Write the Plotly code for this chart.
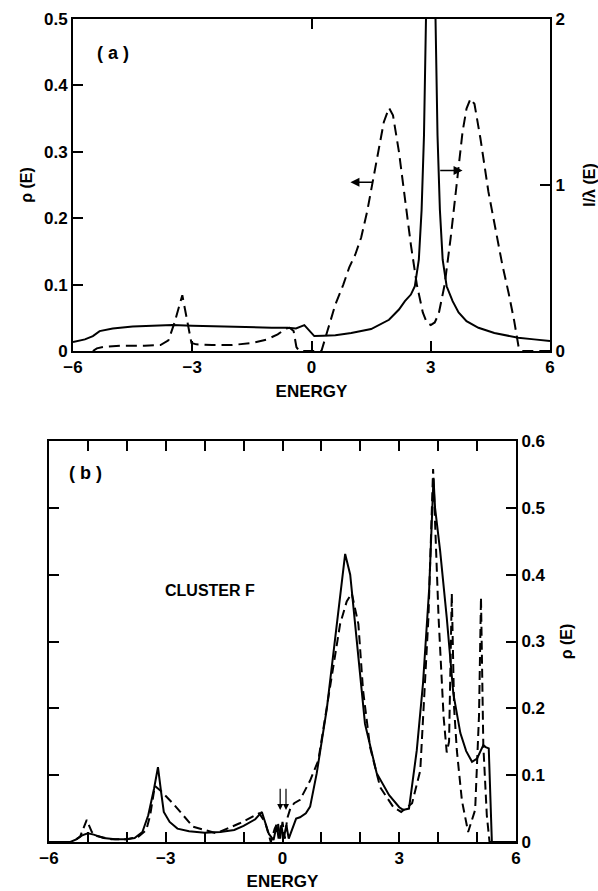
import plotly.graph_objects as go

# ---------------- Panel (a) data ----------------
# dashed curve: rho(E), left axis
a_rho_E = [-5.5, -5.4, -5.2, -4.8, -4.2, -3.8, -3.6, -3.45, -3.25, -3.12, -3.02, -2.9, -2.5, -2.0,
           -1.5, -1.14, -0.85, -0.64, -0.55, -0.45, -0.38, -0.31, 0.0, 0.25, 0.4, 0.6, 0.8, 0.95,
           1.1, 1.25, 1.4, 1.55, 1.7, 1.82, 1.95, 2.05, 2.2, 2.35, 2.5, 2.65, 2.8, 2.9, 3.0,
           3.1, 3.2, 3.35, 3.5, 3.65, 3.8, 3.9, 4.0, 4.1, 4.25, 4.45, 4.64, 4.8, 4.96, 5.1, 5.21, 5.3, 6.0]
a_rho_V = [0.0, 0.004, 0.0065, 0.008, 0.008, 0.009, 0.016, 0.042, 0.084, 0.04, 0.012, 0.01, 0.009, 0.009,
           0.012, 0.017, 0.025, 0.034, 0.035, 0.03, 0.006, 0.0, 0.0, 0.0, 0.03, 0.07, 0.1, 0.126,
           0.145, 0.171, 0.21, 0.26, 0.31, 0.345, 0.366, 0.355, 0.3, 0.23, 0.16, 0.1, 0.058, 0.043, 0.039,
           0.043, 0.056, 0.1, 0.17, 0.25, 0.33, 0.365, 0.38, 0.372, 0.32, 0.24, 0.177, 0.13, 0.087, 0.045, 0.006, 0.0, 0.0]

# solid curve: 1/lambda(E), right axis
a_inv_E = [-6.0, -5.7, -5.5, -5.33, -5.0, -4.5, -4.0, -3.5, -3.0, -2.5, -2.0, -1.5, -1.0, -0.6,
           -0.39, -0.18, 0.07, 0.3, 0.6, 1.0, 1.5, 1.95, 2.2, 2.35, 2.5, 2.6, 2.7, 2.77, 2.83,
           2.88, 2.93, 2.97, 3.0, 3.03, 3.07, 3.12, 3.17, 3.23, 3.3, 3.4, 3.55, 3.7, 3.9, 4.2,
           4.6, 5.2, 5.6, 6.0]
a_inv_V = [0.054, 0.07, 0.09, 0.12, 0.136, 0.148, 0.152, 0.156, 0.152, 0.148, 0.144, 0.14, 0.14, 0.14,
           0.136, 0.156, 0.09, 0.092, 0.095, 0.108, 0.132, 0.188, 0.25, 0.3, 0.34, 0.39, 0.55, 0.85, 1.3,
           2.0, 3.2, 4.5, 5.0, 4.5, 3.2, 2.0, 1.3, 0.85, 0.55, 0.39, 0.3, 0.232, 0.18, 0.14,
           0.108, 0.08, 0.07, 0.06]

# ---------------- Panel (b) data ----------------
b_sol_E = [-6.0, -5.45, -5.3, -5.15, -5.0, -4.85, -4.6, -4.3, -4.0, -3.8, -3.6, -3.45, -3.3, -3.2,
           -3.12, -3.05, -2.9, -2.7, -2.4, -2.0, -1.6, -1.24, -1.0, -0.7, -0.53, -0.45, -0.35,
           -0.23, -0.15, -0.1, -0.03, 0.03, 0.1, 0.16, 0.25, 0.35, 0.45, 0.6, 0.71, 0.88, 1.14,
           1.4, 1.61, 1.74, 1.95, 2.12, 2.42, 2.74, 3.0, 3.1, 3.25, 3.45, 3.61, 3.77, 3.85, 3.88,
           3.92, 4.05, 4.22, 4.39, 4.57, 4.72, 4.87, 5.0, 5.16, 5.22, 5.3, 5.38, 6.0]
b_sol_V = [0.0, 0.0, 0.004, 0.01, 0.013, 0.011, 0.006, 0.004, 0.004, 0.006, 0.015, 0.04, 0.08, 0.112,
           0.075, 0.045, 0.03, 0.02, 0.016, 0.014, 0.015, 0.018, 0.024, 0.034, 0.045, 0.03, 0.012,
           0.003, 0.025, 0.005, 0.025, 0.005, 0.025, 0.005, 0.02, 0.035, 0.037, 0.043, 0.053, 0.103, 0.2,
           0.326, 0.431, 0.4, 0.277, 0.177, 0.103, 0.07, 0.052, 0.048, 0.05, 0.137, 0.237, 0.38, 0.5, 0.545,
           0.5, 0.436, 0.336, 0.222, 0.163, 0.136, 0.12, 0.125, 0.145, 0.142, 0.14, 0.0, 0.0]

b_dsh_E = [-6.0, -5.4, -5.2, -5.03, -4.9, -4.77, -4.4, -4.0, -3.7, -3.5, -3.4, -3.28, -3.1, -2.82,
           -2.3, -1.7, -1.1, -0.75, -0.6, -0.45, -0.3, -0.2, -0.12, -0.06, 0.0, 0.06, 0.12,
           0.2, 0.3, 0.45, 0.71, 0.92, 1.22, 1.48, 1.65, 1.78, 1.95, 2.07, 2.25, 2.51, 2.85, 3.05,
           3.33, 3.54, 3.75, 3.87, 4.01, 4.14, 4.22, 4.28, 4.35, 4.41, 4.48, 4.61, 4.77, 4.95,
           5.05, 5.1, 5.16, 5.25, 5.32, 6.0]
b_dsh_V = [0.0, 0.0, 0.008, 0.033, 0.015, 0.009, 0.004, 0.004, 0.008, 0.018, 0.04, 0.084, 0.075, 0.058,
           0.023, 0.013, 0.028, 0.038, 0.043, 0.03, 0.0, 0.02, 0.03, 0.005, 0.03, 0.005, 0.035,
           0.05, 0.058, 0.063, 0.092, 0.122, 0.23, 0.326, 0.36, 0.372, 0.326, 0.227, 0.142, 0.082, 0.052, 0.045,
           0.058, 0.107, 0.336, 0.558, 0.336, 0.187, 0.134, 0.15, 0.372, 0.2, 0.137, 0.062, 0.015, 0.048,
           0.19, 0.366, 0.145, 0.04, 0.0, 0.0]

# tick labels
x_ticks_a = [-6, -3, 0, 3, 6]
x_ticklabels_a = ["−6", "−3", "0", "3", "6"]
y_ticks_a = [0, 0.1, 0.2, 0.3, 0.4, 0.5]
y_ticklabels_a = ["0", "0.1", "0.2", "0.3", "0.4", "0.5"]
y2_ticks_a = [0, 1, 2]
x_ticks_b = list(range(-6, 7))
x_ticklabels_b = ["−6", "", "", "−3", "", "", "0", "", "", "3", "", "", "6"]
y_ticks_b = [0, 0.1, 0.2, 0.3, 0.4, 0.5, 0.6]
y_ticklabels_b = ["0", "0.1", "0.2", "0.3", "0.4", "0.5", "0.6"]

FONT = "Liberation Sans, Arial, Helvetica, sans-serif"
TF = dict(family=FONT, size=17, color="black", weight="bold")
TITLE_F = dict(family=FONT, size=17, color="black", weight="bold")
YT_F = dict(family=FONT, size=16, color="black", weight="bold")
LW = 2.0
DASH = "11px,6px"

fig = go.Figure()
fig.add_trace(go.Scatter(x=a_rho_E, y=a_rho_V, mode="lines", xaxis="x", yaxis="y",
                         line=dict(color="black", width=LW, dash=DASH), showlegend=False))
fig.add_trace(go.Scatter(x=a_inv_E, y=a_inv_V, mode="lines", xaxis="x", yaxis="y2",
                         line=dict(color="black", width=LW), showlegend=False))
fig.add_trace(go.Scatter(x=b_dsh_E, y=b_dsh_V, mode="lines", xaxis="x2", yaxis="y3",
                         line=dict(color="black", width=LW, dash="9px,5px"), showlegend=False))
fig.add_trace(go.Scatter(x=b_sol_E, y=b_sol_V, mode="lines", xaxis="x2", yaxis="y3",
                         line=dict(color="black", width=LW), showlegend=False))
# dummy trace for top tick axis of panel (a)
fig.add_trace(go.Scatter(x=[None], y=[None], xaxis="x3", yaxis="y", showlegend=False))

ax_common = dict(showgrid=False, zeroline=False, showline=True, linecolor="black", linewidth=2,
                 ticks="inside", ticklen=10, tickwidth=1.5, tickcolor="black", tickfont=TF,
                 automargin=False)

xa_dom = [73 / 598, 550 / 598]
ya_dom = [(891 - 351) / 891, (891 - 19) / 891]
xb_dom = [49 / 598, 516 / 598]
yb_dom = [(891 - 842) / 891, (891 - 441) / 891]

fig.update_layout(
    width=598, height=891, margin=dict(l=0, r=0, t=0, b=0, autoexpand=False),
    paper_bgcolor="white", plot_bgcolor="white",
    xaxis=dict(**ax_common, domain=xa_dom, anchor="y", range=[-6, 6],
               tickvals=x_ticks_a, ticktext=x_ticklabels_a,
               title=dict(text="ENERGY", font=TITLE_F, standoff=9)),
    xaxis3=dict(**ax_common, domain=xa_dom, anchor="y", overlaying="x", side="top",
                range=[-6, 6], tickvals=[0], showticklabels=False),
    yaxis=dict(**ax_common, domain=ya_dom, anchor="x", range=[0, 0.5],
               tickvals=y_ticks_a, ticktext=y_ticklabels_a,
               title=dict(text="ρ (E)", font=YT_F, standoff=7)),
    yaxis2=dict(**ax_common, domain=ya_dom, anchor="x", overlaying="y", side="right", range=[0, 2],
                tickvals=y2_ticks_a,
                title=dict(text="I/λ (E)", font=YT_F, standoff=20)),
    xaxis2=dict(**ax_common, domain=xb_dom, anchor="y3", range=[-6, 6], mirror="ticks",
                tickvals=x_ticks_b, ticktext=x_ticklabels_b,
                title=dict(text="ENERGY", font=TITLE_F, standoff=8)),
    yaxis3=dict(**ax_common, domain=yb_dom, anchor="x2", side="right", range=[0, 0.6], mirror="ticks",
                tickvals=y_ticks_b, ticktext=y_ticklabels_b,
                title=dict(text="ρ (E)", font=YT_F, standoff=16)),
)

# panel labels / notes
ann_font = dict(family=FONT, size=18, color="black", weight="bold")
fig.add_annotation(x=-5.0, y=0.449, xref="x", yref="y", text="( a )", showarrow=False, font=ann_font)
fig.add_annotation(x=-5.07, y=0.552, xref="x2", yref="y3", text="( b )", showarrow=False, font=ann_font)
fig.add_annotation(x=-1.86, y=0.376, xref="x2", yref="y3", text="CLUSTER F", showarrow=False,
                   font=dict(family=FONT, size=16, color="black", weight="bold"))

# axis-pointing arrows in panel (a)
arrow_a = [(0.98, 0.254, 1.56, 0.254), (3.8, 0.272, 3.2, 0.272)]
for hx, hy, tx, ty in arrow_a:
    fig.add_annotation(x=hx, y=hy, ax=tx, ay=ty, xref="x", yref="y", axref="x", ayref="y",
                       text="", showarrow=True, arrowhead=2, arrowsize=1.2, arrowwidth=1.5,
                       arrowcolor="black")
# down arrows in panel (b)
arrow_b = [(-0.06, 0.048, -0.06, 0.082), (0.09, 0.048, 0.09, 0.082)]
for hx, hy, tx, ty in arrow_b:
    fig.add_annotation(x=hx, y=hy, ax=tx, ay=ty, xref="x2", yref="y3", axref="x2", ayref="y3",
                       text="", showarrow=True, arrowhead=2, arrowsize=1.0, arrowwidth=1.2,
                       arrowcolor="black")

fig.write_html("out.html")
